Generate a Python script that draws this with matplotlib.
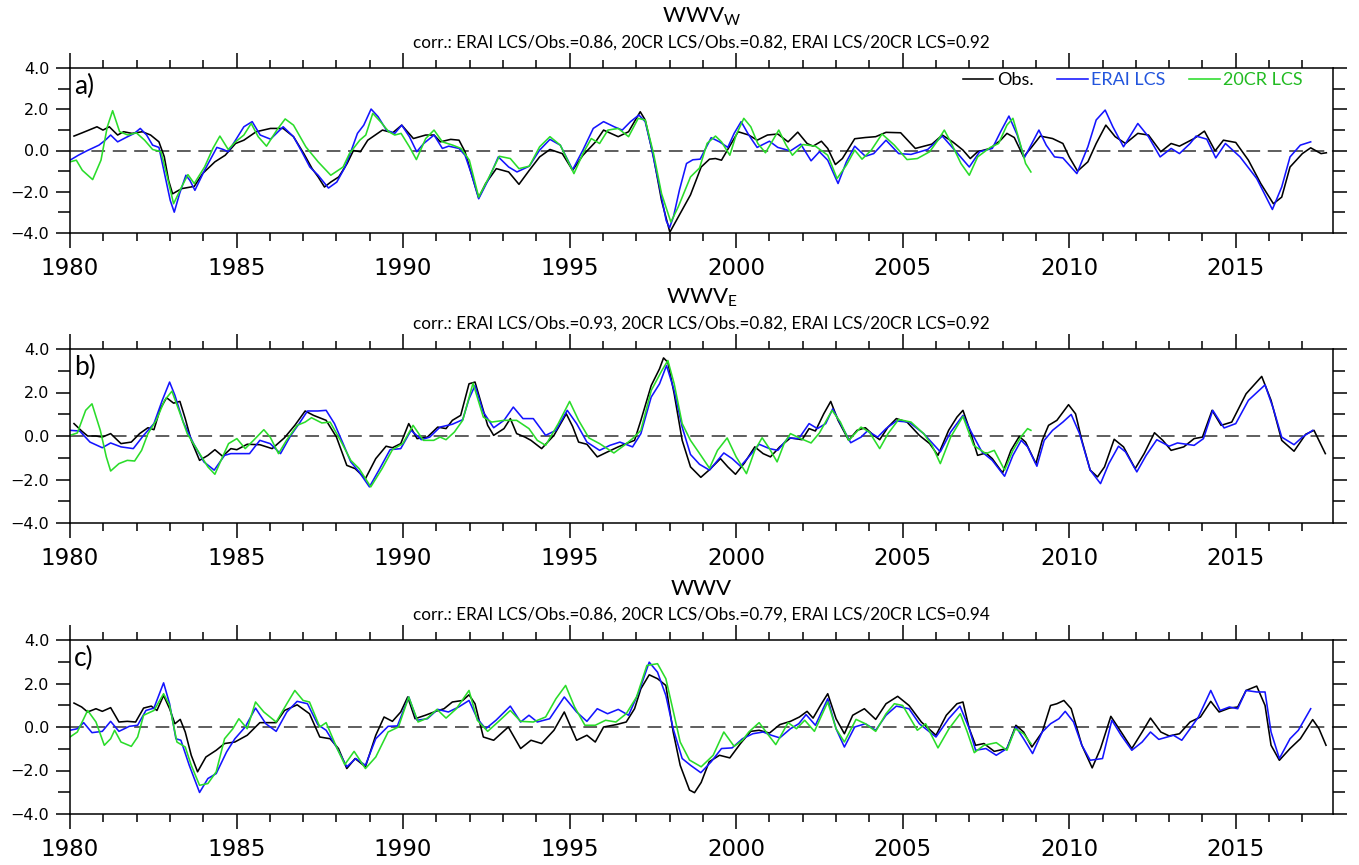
import matplotlib
matplotlib.use("Agg")
import matplotlib.pyplot as plt
from matplotlib.ticker import MultipleLocator, FuncFormatter

# ---------------- a) WWVw ----------------
a_obs_t = [1980.12, 1980.37, 1980.81, 1980.99, 1981.18, 1981.43, 1981.61, 1981.86, 1982.17, 1982.42,
           1982.67, 1982.83, 1982.96, 1983.08, 1983.35, 1983.73, 1983.98, 1984.35, 1984.66, 1984.97,
           1985.22, 1985.59, 1986.02, 1986.40, 1986.71, 1987.02, 1987.27, 1987.45, 1987.64, 1987.83,
           1988.07, 1988.32, 1988.51, 1988.72, 1988.94, 1989.38, 1989.69, 1989.96, 1990.31, 1990.68,
           1990.93, 1991.12, 1991.43, 1991.68, 1991.86, 1992.05, 1992.27, 1992.48, 1992.80, 1993.17,
           1993.48, 1993.79, 1994.10, 1994.41, 1994.78, 1995.09, 1995.40, 1995.78, 1996.02, 1996.46,
           1996.77, 1997.12, 1997.27, 1997.52, 1997.76, 1998.01, 1998.26, 1998.63, 1998.95, 1999.20,
           1999.38, 1999.56, 2000.06, 2000.38, 2000.63, 2000.94, 2001.25, 2001.56, 2001.85, 2002.13,
           2002.31, 2002.56, 2002.75, 2002.98, 2003.19, 2003.56, 2003.88, 2004.19, 2004.50, 2004.94,
           2005.38, 2005.88, 2006.19, 2006.50, 2006.81, 2007.03, 2007.25, 2007.63, 2007.94, 2008.13,
           2008.35, 2008.63, 2008.88, 2009.13, 2009.50, 2009.81, 2010.00, 2010.25, 2010.56, 2010.81,
           2011.10, 2011.38, 2011.69, 2012.06, 2012.38, 2012.75, 2013.06, 2013.31, 2013.75, 2014.06,
           2014.38, 2014.63, 2015.00, 2015.38, 2015.75, 2016.13, 2016.38, 2016.63, 2017.00, 2017.25,
           2017.56, 2017.72]
a_obs_v = [0.70, 0.86, 1.15, 0.99, 1.15, 0.75, 0.91, 0.83, 0.91, 0.75,
           0.42, -0.30, -1.45, -2.10, -1.85, -1.74, -1.12, -0.55, -0.23, 0.34,
           0.50, 0.91, 1.07, 1.07, 0.67, -0.15, -0.88, -1.28, -1.77, -1.53,
           -1.28, -0.63, 0.00, -0.06, 0.50, 0.99, 0.86, 1.23, 0.58, 0.75,
           0.75, 0.42, 0.54, 0.50, -0.06, -1.12, -2.29, -1.60, -0.88, -1.04,
           -1.64, -0.96, -0.31, 0.05, -0.15, -0.96, -0.23, 0.42, 0.99, 0.67,
           0.91, 1.88, 1.48, -0.31, -2.42, -3.96, -3.23, -2.15, -0.80, -0.42,
           -0.39, -0.47, 0.91, 0.75, 0.50, 0.75, 0.80, 0.42, 0.89, 0.34,
           0.21, 0.45, 0.10, -0.68, -0.39, 0.57, 0.63, 0.67, 0.88, 0.86,
           0.10, 0.31, 0.75, 0.42, 0.02, -0.39, -0.06, 0.10, 0.50, 0.83,
           0.63, -0.31, 0.18, 0.70, 0.58, 0.34, -0.31, -1.00, -0.55, 0.34,
           1.23, 0.67, 0.34, 0.83, 0.75, -0.06, 0.34, 0.21, 0.58, 0.94,
           -0.02, 0.50, 0.39, -0.47, -1.60, -2.58, -2.26, -0.80, -0.15, 0.13,
           -0.15, -0.11]

a_erai_t = [1980.00, 1980.25, 1980.50, 1980.87, 1981.06, 1981.22, 1981.43, 1981.68, 1981.93, 1982.11,
            1982.30, 1982.48, 1982.67, 1982.86, 1983.01, 1983.13, 1983.29, 1983.48, 1983.60, 1983.75,
            1984.04, 1984.41, 1984.60, 1984.75, 1984.97, 1985.22, 1985.47, 1985.71, 1986.02, 1986.40,
            1986.71, 1986.96, 1987.20, 1987.45, 1987.76, 1988.01, 1988.26, 1988.45, 1988.63, 1988.82,
            1989.04, 1989.25, 1989.50, 1989.75, 1989.96, 1990.19, 1990.41, 1990.62, 1990.93, 1991.18,
            1991.37, 1991.68, 1991.86, 1992.05, 1992.27, 1992.55, 1992.86, 1993.17, 1993.42, 1993.79,
            1994.10, 1994.41, 1994.72, 1995.09, 1995.40, 1995.71, 1996.02, 1996.34, 1996.58, 1996.83,
            1997.08, 1997.27, 1997.45, 1997.70, 1997.90, 1998.00, 1998.12, 1998.30, 1998.51, 1998.70,
            1998.92, 1999.25, 1999.50, 1999.75, 1999.94, 2000.15, 2000.38, 2000.63, 2001.00, 2001.25,
            2001.63, 2001.94, 2002.25, 2002.50, 2002.75, 2003.06, 2003.31, 2003.56, 2003.88, 2004.13,
            2004.50, 2004.88, 2005.25, 2005.75, 2006.19, 2006.56, 2007.00, 2007.31, 2007.69, 2007.94,
            2008.19, 2008.44, 2008.65, 2008.88, 2009.09, 2009.31, 2009.56, 2009.81, 2010.23, 2010.56,
            2010.81, 2011.08, 2011.31, 2011.63, 2012.06, 2012.38, 2012.73, 2013.06, 2013.31, 2013.63,
            2013.81, 2014.13, 2014.40, 2014.69, 2015.13, 2015.63, 2016.10, 2016.38, 2016.63, 2016.94,
            2017.25]
a_erai_v = [-0.47, -0.23, -0.02, 0.26, 0.50, 0.75, 0.42, 0.63, 0.83, 1.07,
            0.75, 0.26, 0.15, -1.28, -2.42, -2.99, -2.09, -1.20, -1.45, -1.93,
            -0.96, 0.15, 0.05, -0.06, 0.50, 1.15, 1.40, 0.75, 0.55, 1.15,
            0.67, -0.06, -0.80, -1.20, -1.82, -1.53, -0.80, 0.02, 0.83, 1.23,
            2.01, 1.64, 0.99, 0.83, 1.23, 0.67, -0.06, 0.34, 0.75, 0.10,
            0.21, 0.10, -0.23, -1.12, -2.34, -1.45, -0.31, -0.80, -1.04, -0.76,
            0.02, 0.54, 0.26, -0.93, 0.02, 1.07, 1.40, 1.15, 0.99, 1.40,
            1.72, 1.40, 0.18, -1.77, -3.40, -3.75, -3.20, -1.90, -0.63, -0.45,
            -0.42, 0.62, 0.42, 0.15, 0.83, 1.40, 0.75, 0.15, 0.45, 0.15,
            -0.02, 0.31, -0.50, -0.06, -0.47, -1.60, -0.55, 0.21, -0.28, -0.15,
            0.50, -0.15, -0.19, 0.05, 0.70, 0.02, -0.80, -0.06, 0.10, 0.91,
            1.67, 0.75, -0.36, 0.34, 0.99, 0.26, -0.31, -0.36, -1.12, 0.18,
            1.48, 1.96, 1.15, 0.18, 1.31, 0.67, -0.31, 0.10, -0.15, 0.34,
            0.70, 0.55, -0.36, 0.34, -0.31, -1.36, -2.86, -1.77, -0.31, 0.26,
            0.42]

a_20cr_t = [1980.00, 1980.19, 1980.37, 1980.68, 1980.93, 1981.12, 1981.28, 1981.49, 1981.74, 1981.99,
            1982.24, 1982.48, 1982.73, 1982.92, 1983.11, 1983.35, 1983.54, 1983.73, 1984.04, 1984.29,
            1984.50, 1984.75, 1984.97, 1985.22, 1985.44, 1985.65, 1985.90, 1986.21, 1986.46, 1986.71,
            1987.08, 1987.45, 1987.83, 1988.20, 1988.39, 1988.70, 1988.88, 1989.09, 1989.32, 1989.57,
            1989.75, 1989.94, 1990.19, 1990.40, 1990.68, 1990.93, 1991.18, 1991.49, 1991.74, 1991.99,
            1992.27, 1992.61, 1992.89, 1993.22, 1993.48, 1993.79, 1994.10, 1994.41, 1994.72, 1995.13,
            1995.40, 1995.65, 1995.90, 1996.15, 1996.46, 1996.77, 1997.06, 1997.27, 1997.52, 1997.76,
            1998.04, 1998.26, 1998.63, 1998.90, 1999.13, 1999.38, 1999.56, 1999.81, 2000.00, 2000.23,
            2000.44, 2000.65, 2000.88, 2001.28, 2001.50, 2001.69, 2002.00, 2002.38, 2002.75, 2003.03,
            2003.31, 2003.56, 2003.78, 2004.06, 2004.38, 2004.75, 2005.13, 2005.44, 2005.81, 2006.06,
            2006.25, 2006.44, 2006.75, 2007.00, 2007.25, 2007.63, 2007.88, 2008.13, 2008.31, 2008.50,
            2008.69, 2008.85]
a_20cr_v = [-0.55, -0.47, -0.96, -1.41, -0.47, 1.15, 1.93, 0.91, 0.75, 0.86,
            0.50, 0.05, -0.06, -1.28, -2.58, -1.77, -1.17, -1.60, -0.80, 0.10,
            0.70, 0.05, 0.42, 0.75, 1.31, 0.67, 0.21, 0.99, 1.53, 1.23,
            0.18, -0.55, -1.20, -0.80, -0.15, 0.50, 0.75, 1.80, 1.40, 0.91,
            0.75, 0.83, 0.18, -0.44, 0.58, 0.99, 0.42, 0.26, 0.10, -0.47,
            -2.26, -1.20, -0.28, -0.39, -0.88, -0.76, 0.18, 0.67, 0.26, -1.12,
            -0.15, 0.58, 0.34, 0.99, 1.07, 0.67, 1.56, 1.48, -0.15, -2.09,
            -3.47, -2.74, -1.28, -0.85, 0.35, 0.70, 0.42, -0.23, 0.75, 1.56,
            1.15, 0.34, -0.11, 0.99, 0.26, -0.23, 0.29, 0.21, -0.23, -1.36,
            -0.71, 0.02, -0.42, 0.02, 0.80, 0.26, -0.44, -0.39, -0.06, 0.50,
            0.99, 0.42, -0.63, -1.20, -0.31, 0.15, 0.34, 1.23, 1.56, 0.50,
            -0.63, -1.04]

# ---------------- b) WWVe ----------------
b_obs_t = [1980.12, 1980.35, 1980.53, 1980.78, 1980.97, 1981.22, 1981.53, 1981.84, 1982.09, 1982.34,
           1982.52, 1982.71, 1982.90, 1983.11, 1983.30, 1983.46, 1983.64, 1983.89, 1984.14, 1984.35,
           1984.58, 1984.83, 1985.01, 1985.32, 1985.70, 1986.07, 1986.44, 1986.75, 1987.06, 1987.31,
           1987.69, 1988.00, 1988.31, 1988.56, 1988.87, 1989.18, 1989.49, 1989.68, 1989.93, 1990.17,
           1990.42, 1990.73, 1991.04, 1991.29, 1991.48, 1991.73, 1991.98, 1992.16, 1992.35, 1992.54,
           1992.72, 1993.03, 1993.22, 1993.41, 1993.66, 1993.84, 1994.16, 1994.53, 1994.90, 1995.09,
           1995.27, 1995.52, 1995.83, 1996.14, 1996.46, 1996.70, 1996.95, 1997.14, 1997.45, 1997.70,
           1997.82, 1997.95, 1998.14, 1998.38, 1998.63, 1998.94, 1999.20, 1999.53, 1999.75, 1999.98,
           2000.25, 2000.56, 2000.81, 2001.03, 2001.31, 2001.63, 2001.98, 2002.19, 2002.38, 2002.63,
           2002.84, 2003.06, 2003.38, 2003.63, 2003.88, 2004.13, 2004.31, 2004.56, 2004.81, 2005.13,
           2005.50, 2005.81, 2006.06, 2006.38, 2006.63, 2006.81, 2007.00, 2007.25, 2007.50, 2007.69,
           2008.00, 2008.25, 2008.50, 2008.69, 2009.00, 2009.19, 2009.38, 2009.63, 2009.98, 2010.19,
           2010.38, 2010.63, 2010.85, 2011.06, 2011.35, 2011.63, 2011.98, 2012.25, 2012.56, 2012.81,
           2013.06, 2013.44, 2013.75, 2014.00, 2014.29, 2014.56, 2014.88, 2015.31, 2015.78, 2016.06,
           2016.38, 2016.75, 2017.10, 2017.35, 2017.69]
b_obs_v = [0.57, 0.23, 0.00, 0.00, -0.05, 0.11, -0.35, -0.28, 0.11, 0.38,
           0.29, 1.25, 1.76, 1.51, 1.59, 0.80, -0.20, -1.12, -0.89, -0.63,
           -0.93, -0.58, -0.63, -0.38, -0.40, -0.58, -0.08, 0.49, 1.15, 0.95,
           0.72, -0.05, -1.35, -1.50, -1.96, -1.04, -0.47, -0.54, -0.35, 0.57,
           -0.12, -0.05, 0.41, 0.34, 0.72, 0.95, 2.40, 2.48, 1.48, 0.49,
           0.03, 0.34, 0.80, 0.11, -0.05, -0.20, -0.58, 0.03, 1.02, 0.44,
           -0.28, -0.38, -0.96, -0.73, -0.50, -0.35, -0.20, 0.72, 2.32, 3.09,
           3.59, 3.39, 1.94, -0.20, -1.42, -1.90, -1.55, -1.04, -1.42, -1.76,
           -1.24, -0.50, -0.81, -0.96, -0.50, -0.09, -0.17, 0.34, 0.23, 1.02,
           1.59, 0.72, -0.20, 0.26, 0.38, 0.03, -0.17, 0.41, 0.80, 0.64,
           0.03, -0.35, -0.89, 0.26, 0.87, 1.18, 0.34, -0.89, -0.78, -1.04,
           -1.70, -0.66, -0.02, -0.28, -1.27, -0.20, 0.49, 0.72, 1.44, 1.02,
           -0.20, -1.57, -1.88, -1.42, -0.15, -0.50, -1.50, -0.81, 0.15, -0.20,
           -0.66, -0.50, -0.12, -0.05, 1.18, 0.49, 0.64, 1.94, 2.74, 1.64,
           -0.20, -0.70, 0.08, 0.26, -0.81]

b_erai_t = [1980.00, 1980.29, 1980.60, 1980.97, 1981.22, 1981.53, 1981.90, 1982.21, 1982.52, 1982.77,
            1982.99, 1983.15, 1983.40, 1983.71, 1984.02, 1984.33, 1984.64, 1984.83, 1985.07, 1985.39,
            1985.70, 1986.01, 1986.32, 1986.63, 1986.88, 1987.13, 1987.44, 1987.69, 1987.94, 1988.18,
            1988.43, 1988.68, 1988.99, 1989.30, 1989.61, 1989.93, 1990.24, 1990.55, 1990.80, 1991.11,
            1991.48, 1991.79, 1991.98, 1992.16, 1992.41, 1992.72, 1993.03, 1993.31, 1993.60, 1993.91,
            1994.28, 1994.59, 1994.93, 1995.21, 1995.52, 1995.90, 1996.21, 1996.51, 1996.89, 1997.14,
            1997.45, 1997.70, 1997.91, 1998.14, 1998.38, 1998.63, 1998.90, 1999.20, 1999.63, 1999.88,
            2000.13, 2000.38, 2000.69, 2001.00, 2001.25, 2001.56, 2001.88, 2002.19, 2002.44, 2002.69,
            2002.90, 2003.13, 2003.44, 2003.75, 2003.94, 2004.25, 2004.50, 2004.81, 2005.19, 2005.63,
            2006.13, 2006.44, 2006.81, 2007.06, 2007.38, 2007.69, 2008.06, 2008.31, 2008.56, 2008.75,
            2009.03, 2009.25, 2009.50, 2009.81, 2010.06, 2010.31, 2010.63, 2010.94, 2011.19, 2011.48,
            2011.69, 2012.03, 2012.31, 2012.63, 2013.00, 2013.25, 2013.75, 2014.03, 2014.31, 2014.65,
            2015.00, 2015.38, 2015.88, 2016.13, 2016.38, 2016.75, 2017.00, 2017.31]
b_erai_v = [0.26, 0.23, -0.28, -0.54, -0.32, -0.50, -0.58, 0.03, 0.57, 1.64,
            2.48, 1.87, 0.64, -0.35, -1.19, -1.57, -0.89, -0.81, -0.81, -0.81,
            -0.20, -0.35, -0.81, 0.03, 0.57, 1.15, 1.15, 1.18, 0.57, -0.28,
            -1.19, -1.65, -2.34, -1.50, -0.63, -0.58, 0.26, -0.17, -0.05, 0.41,
            0.54, 0.75, 1.71, 2.32, 1.10, 0.38, 0.72, 1.33, 0.80, 0.80,
            0.03, 0.26, 1.18, 0.57, -0.28, -0.66, -0.43, -0.28, -0.50, 0.11,
            1.79, 2.40, 3.24, 2.09, 0.41, -0.85, -1.30, -1.57, -0.78, -1.04,
            -1.39, -0.96, -0.38, -0.58, -0.66, -0.09, -0.12, 0.57, 0.34, 0.57,
            1.25, 0.57, -0.31, -0.05, 0.23, -0.05, 0.34, 0.69, 0.64, 0.11,
            -0.73, 0.18, 0.95, 0.18, -0.73, -1.12, -1.85, -0.89, -0.20, -0.50,
            -1.39, -0.20, 0.26, 0.64, 0.99, 0.11, -1.57, -2.19, -1.27, -0.47,
            -0.73, -1.65, -0.89, -0.17, -0.47, -0.32, -0.43, -0.12, 1.18, 0.37,
            0.57, 1.64, 2.35, 1.25, -0.05, -0.40, -0.05, 0.26]

b_20cr_t = [1980.00, 1980.22, 1980.47, 1980.66, 1980.91, 1981.09, 1981.22, 1981.47, 1981.72, 1981.94,
            1982.15, 1982.34, 1982.59, 1982.84, 1983.06, 1983.27, 1983.52, 1983.83, 1984.14, 1984.35,
            1984.58, 1984.76, 1985.01, 1985.26, 1985.51, 1985.82, 1986.01, 1986.26, 1986.50, 1986.82,
            1987.06, 1987.25, 1987.56, 1987.81, 1988.12, 1988.43, 1988.68, 1989.03, 1989.37, 1989.68,
            1989.99, 1990.30, 1990.61, 1990.92, 1991.11, 1991.29, 1991.54, 1991.79, 1992.10, 1992.41,
            1992.66, 1993.03, 1993.41, 1993.78, 1994.03, 1994.28, 1994.66, 1995.00, 1995.27, 1995.58,
            1995.90, 1996.33, 1996.64, 1996.89, 1997.14, 1997.45, 1997.77, 1997.95, 1998.14, 1998.38,
            1998.63, 1998.94, 1999.20, 1999.44, 1999.73, 2000.00, 2000.31, 2000.56, 2000.78, 2001.00,
            2001.23, 2001.44, 2001.63, 2001.94, 2002.25, 2002.50, 2002.88, 2003.13, 2003.38, 2003.75,
            2004.00, 2004.31, 2004.56, 2004.88, 2005.25, 2005.63, 2005.88, 2006.13, 2006.44, 2006.81,
            2007.13, 2007.50, 2007.75, 2008.06, 2008.31, 2008.56, 2008.75, 2008.85]
b_20cr_v = [0.03, 0.14, 1.18, 1.48, 0.26, -0.96, -1.61, -1.27, -1.12, -1.15,
            -0.66, 0.11, 0.72, 1.64, 2.06, 1.18, 0.11, -0.66, -1.42, -1.76,
            -0.96, -0.35, -0.12, -0.58, -0.20, 0.29, -0.05, -0.81, -0.20, 0.49,
            0.64, 0.84, 0.60, 0.64, -0.20, -1.12, -1.50, -2.34, -1.50, -0.63,
            -0.35, 0.49, -0.20, -0.20, -0.05, -0.17, 0.18, 0.72, 2.43, 0.87,
            0.64, 0.72, 0.72, 0.34, -0.20, -0.43, 0.57, 1.59, 0.72, -0.09,
            -0.35, -0.78, -0.43, -0.12, 0.26, 2.09, 3.01, 3.47, 2.40, 0.57,
            -0.20, -0.89, -1.48, -0.66, -0.09, -0.96, -1.73, -0.66, -0.08, -0.58,
            -1.19, -0.35, 0.11, -0.12, -0.32, 0.14, 1.18, 0.64, -0.20, 0.41,
            0.18, -0.58, 0.11, 0.76, 0.64, 0.11, -0.43, -1.27, -0.05, 0.90,
            -0.43, -0.81, -0.66, -1.57, -0.66, -0.02, 0.34, 0.26]

# ---------------- c) WWV ----------------
c_obs_t = [1980.12, 1980.35, 1980.53, 1980.78, 1980.97, 1981.22, 1981.47, 1981.72, 1981.97, 1982.21,
           1982.44, 1982.61, 1982.81, 1982.99, 1983.15, 1983.31, 1983.46, 1983.64, 1983.83, 1984.08,
           1984.39, 1984.64, 1984.95, 1985.32, 1985.70, 1986.19, 1986.44, 1986.82, 1987.19, 1987.50,
           1987.81, 1988.06, 1988.31, 1988.56, 1988.87, 1989.18, 1989.43, 1989.68, 1989.93, 1990.14,
           1990.36, 1990.67, 1990.98, 1991.23, 1991.48, 1991.79, 1991.98, 1992.16, 1992.41, 1992.72,
           1993.16, 1993.53, 1993.84, 1994.16, 1994.53, 1994.84, 1995.21, 1995.52, 1995.77, 1996.02,
           1996.40, 1996.70, 1996.95, 1997.14, 1997.39, 1997.64, 1997.89, 1998.11, 1998.32, 1998.60,
           1998.75, 1998.95, 1999.19, 1999.50, 1999.81, 2000.13, 2000.44, 2000.69, 2001.00, 2001.31,
           2001.63, 2001.90, 2002.13, 2002.31, 2002.53, 2002.75, 2003.00, 2003.25, 2003.50, 2003.85,
           2004.19, 2004.50, 2004.85, 2005.19, 2005.56, 2006.00, 2006.31, 2006.63, 2006.81, 2007.00,
           2007.19, 2007.44, 2007.75, 2008.13, 2008.40, 2008.63, 2008.88, 2009.19, 2009.44, 2009.63,
           2009.84, 2010.06, 2010.38, 2010.69, 2010.94, 2011.25, 2011.56, 2011.88, 2012.19, 2012.44,
           2012.75, 2013.00, 2013.31, 2013.63, 2013.94, 2014.25, 2014.50, 2014.81, 2015.06, 2015.31,
           2015.63, 2015.88, 2016.06, 2016.31, 2016.63, 2016.94, 2017.31, 2017.50, 2017.71]
c_obs_v = [1.10, 0.92, 0.69, 0.84, 0.72, 0.89, 0.23, 0.26, 0.23, 0.87,
           0.96, 0.76, 1.45, 0.84, 0.15, 0.35, -0.23, -1.30, -2.06, -1.38,
           -1.07, -0.76, -0.69, -0.38, 0.20, 0.20, 0.76, 1.02, 0.61, -0.46,
           -0.54, -0.99, -1.91, -1.45, -1.83, -0.38, 0.46, 0.26, 0.69, 1.38,
           0.38, 0.54, 0.72, 0.84, 1.15, 1.22, 1.48, 1.07, -0.46, -0.61,
           0.00, -0.99, -0.61, -0.76, -0.15, 0.69, -0.61, -0.38, -0.69, 0.00,
           0.11, 0.23, 0.84, 1.76, 2.40, 2.22, 1.91, -0.23, -1.76, -2.90,
           -3.02, -2.55, -1.60, -1.30, -1.42, -0.76, -0.20, -0.15, -0.28, 0.11,
           0.26, 0.46, 0.72, 0.41, 0.99, 1.53, 0.38, -0.31, 0.54, 0.84,
           0.35, 1.07, 1.41, 0.99, 0.23, -0.38, 0.54, 1.07, 1.15, -0.08,
           -0.84, -0.76, -1.12, -0.99, 0.08, -0.23, -0.92, -0.23, 0.99, 1.07,
           1.22, 0.84, -0.84, -1.88, -0.99, 0.49, -0.23, -0.99, -0.23, 0.41,
           -0.23, -0.41, -0.31, 0.23, 0.46, 1.18, 0.69, 0.87, 0.92, 1.68,
           1.88, 0.99, -0.84, -1.53, -0.99, -0.54, 0.34, -0.08, -0.84]

c_erai_t = [1980.00, 1980.22, 1980.41, 1980.66, 1980.97, 1981.22, 1981.47, 1981.78, 1982.03, 1982.28,
            1982.52, 1982.81, 1982.99, 1983.18, 1983.33, 1983.58, 1983.89, 1984.14, 1984.39, 1984.70,
            1984.95, 1985.26, 1985.57, 1985.88, 1986.19, 1986.51, 1986.82, 1987.13, 1987.44, 1987.69,
            1988.00, 1988.31, 1988.58, 1988.87, 1989.18, 1989.55, 1989.83, 1990.17, 1990.42, 1990.73,
            1991.04, 1991.36, 1991.67, 1991.98, 1992.23, 1992.48, 1992.79, 1993.22, 1993.53, 1993.78,
            1994.03, 1994.40, 1994.84, 1995.21, 1995.52, 1995.83, 1996.14, 1996.46, 1996.77, 1997.08,
            1997.39, 1997.64, 1997.89, 1998.11, 1998.38, 1998.63, 1998.94, 1999.25, 1999.56, 1999.88,
            2000.19, 2000.50, 2000.81, 2001.06, 2001.31, 2001.63, 2001.88, 2002.10, 2002.38, 2002.75,
            2003.00, 2003.25, 2003.56, 2003.88, 2004.19, 2004.50, 2004.81, 2005.19, 2005.50, 2006.00,
            2006.38, 2006.72, 2007.00, 2007.19, 2007.50, 2007.81, 2008.13, 2008.40, 2008.63, 2008.90,
            2009.19, 2009.44, 2009.69, 2009.88, 2010.13, 2010.38, 2010.63, 2011.00, 2011.28, 2011.56,
            2011.88, 2012.19, 2012.44, 2012.69, 2013.13, 2013.38, 2013.63, 2013.88, 2014.25, 2014.53,
            2014.81, 2015.06, 2015.31, 2015.63, 2015.88, 2016.06, 2016.31, 2016.63, 2016.88, 2017.25]
c_erai_v = [-0.15, -0.08, 0.20, -0.26, -0.20, 0.26, -0.20, 0.03, 0.08, 0.76,
            0.87, 2.03, 1.07, -0.54, -0.61, -1.76, -3.01, -2.37, -2.14, -1.15,
            -0.54, 0.00, 0.87, 0.15, -0.20, 0.69, 1.18, 1.07, 0.11, -0.15,
            -0.92, -1.83, -1.45, -1.76, -0.54, 0.03, 0.05, 1.38, 0.31, 0.38,
            0.81, 0.69, 0.92, 1.22, 0.38, -0.08, 0.31, 0.96, 0.23, 0.54,
            0.23, 0.38, 1.38, 0.69, 0.26, 0.84, 0.61, 0.81, 0.54, 1.61,
            2.98, 2.52, 1.45, -0.08, -1.45, -1.76, -2.10, -1.60, -0.99, -0.96,
            -0.54, -0.31, -0.23, -0.38, -0.50, -0.08, 0.15, 0.57, 0.08, 1.30,
            -0.08, -0.92, 0.00, 0.15, -0.15, 0.54, 0.96, 0.84, 0.15, -0.46,
            0.38, 0.96, -0.08, -1.07, -0.99, -1.30, -0.99, 0.00, -0.54, -1.22,
            -0.23, 0.15, 0.38, 0.72, 0.23, -0.84, -1.53, -1.45, 0.31, -0.38,
            -1.07, -0.69, -0.23, -0.57, -0.38, -0.61, -0.08, 0.46, 1.68, 0.76,
            0.92, 0.84, 1.68, 1.61, 1.61, -0.23, -1.45, -0.54, -0.15, 0.84]

c_20cr_t = [1980.00, 1980.22, 1980.53, 1980.78, 1981.03, 1981.22, 1981.34, 1981.53, 1981.84, 1982.03,
            1982.21, 1982.52, 1982.81, 1982.99, 1983.21, 1983.46, 1983.64, 1983.89, 1984.14, 1984.39,
            1984.64, 1984.89, 1985.07, 1985.32, 1985.57, 1985.82, 1986.19, 1986.51, 1986.75, 1987.00,
            1987.19, 1987.50, 1987.69, 1988.00, 1988.25, 1988.53, 1988.87, 1989.18, 1989.55, 1989.86,
            1990.17, 1990.45, 1990.73, 1991.02, 1991.29, 1991.60, 1991.98, 1992.23, 1992.54, 1992.85,
            1993.22, 1993.53, 1993.91, 1994.28, 1994.59, 1994.88, 1995.15, 1995.46, 1995.77, 1996.08,
            1996.39, 1996.70, 1997.01, 1997.32, 1997.64, 1997.89, 1998.14, 1998.32, 1998.60, 1998.95,
            1999.31, 1999.63, 1999.94, 2000.19, 2000.38, 2000.69, 2000.94, 2001.19, 2001.56, 2001.81,
            2002.06, 2002.35, 2002.75, 2003.00, 2003.25, 2003.60, 2003.88, 2004.19, 2004.50, 2004.75,
            2005.00, 2005.44, 2005.69, 2006.06, 2006.39, 2006.73, 2006.94, 2007.15, 2007.44, 2007.81,
            2008.13, 2008.38, 2008.63, 2008.85]
c_20cr_v = [-0.46, -0.23, 0.76, 0.23, -0.84, -0.54, -0.15, -0.69, -0.89, -0.46,
            0.54, 0.76, 1.53, 0.99, -0.69, -0.92, -1.76, -2.68, -2.60, -2.06,
            -0.54, -0.08, 0.38, -0.08, 1.15, 0.69, 0.23, 1.07, 1.68, 1.22,
            1.15, 0.00, 0.20, -0.92, -1.73, -1.12, -1.91, -1.38, -0.23, 0.00,
            1.38, 0.23, 0.41, 0.81, 0.41, 0.84, 1.68, 0.31, -0.20, 0.23,
            0.76, 0.26, 0.23, 0.46, 1.30, 1.91, 0.92, 0.08, 0.08, 0.31,
            0.23, 0.61, 1.38, 2.83, 2.91, 2.22, 0.54, -0.69, -1.52, -1.83,
            -1.30, -0.23, -0.89, -0.61, -0.23, 0.20, -0.31, -0.81, 0.20, -0.08,
            0.31, -0.20, 1.15, -0.08, -0.69, 0.35, 0.15, -0.20, 0.61, 1.07,
            0.99, -0.15, 0.15, -0.96, -0.08, 0.61, -0.23, -1.18, -0.84, -0.72,
            -1.07, -0.08, -0.31, -0.76]

letters = ["a)", "b)", "c)"]
titles = [r"WWV$_\mathregular{W}$", r"WWV$_\mathregular{E}$", "WWV"]
corr_texts = ["corr.: ERAI LCS/Obs.=0.86, 20CR LCS/Obs.=0.82, ERAI LCS/20CR LCS=0.92",
              "corr.: ERAI LCS/Obs.=0.93, 20CR LCS/Obs.=0.82, ERAI LCS/20CR LCS=0.92",
              "corr.: ERAI LCS/Obs.=0.86, 20CR LCS/Obs.=0.79, ERAI LCS/20CR LCS=0.94"]
labels = ["Obs.", "ERAI LCS", "20CR LCS"]
colors = ["black", "#1414ff", "#2adc2a"]
label_colors = ["black", "#2255dd", "#22bb22"]

panels = [
    [(a_obs_t, a_obs_v), (a_erai_t, a_erai_v), (a_20cr_t, a_20cr_v)],
    [(b_obs_t, b_obs_v), (b_erai_t, b_erai_v), (b_20cr_t, b_20cr_v)],
    [(c_obs_t, c_obs_v), (c_erai_t, c_erai_v), (c_20cr_t, c_20cr_v)],
]

plt.rcParams['font.family'] = ['DejaVu Sans']
text_font = 'Lato'

W, H = 1359, 865
fig = plt.figure(figsize=(W / 100, H / 100), dpi=100)

# axes boxes in pixels: (top, bottom)
boxes = [(68, 233), (349, 523), (640, 814)]
left_px, right_px = 70, 1333

minus_fmt = FuncFormatter(lambda x, p: f"{x:.1f}".replace("-", "\u2212"))

for i, (top, bot) in enumerate(boxes):
    ax = fig.add_axes([left_px / W, 1 - bot / H, (right_px - left_px) / W, (bot - top) / H])

    # dashed zero line
    ax.axhline(0, color='#333333', lw=1.1, dashes=(9, 5), zorder=1)

    for (t, v), c, lab in zip(panels[i], colors, labels):
        ax.plot(t, v, color=c, lw=1.15, label=lab, zorder=2)

    ax.set_xlim(1980, 2017.92)
    ax.set_ylim(-4, 4)
    ax.xaxis.set_major_locator(MultipleLocator(5))
    ax.xaxis.set_minor_locator(MultipleLocator(1))
    ax.yaxis.set_major_locator(MultipleLocator(2))
    ax.yaxis.set_minor_locator(MultipleLocator(1))
    ax.yaxis.set_major_formatter(minus_fmt)

    ax.tick_params(which='both', direction='out', top=True, right=True, width=1.1)
    ax.tick_params(axis='x', which='major', length=10.5, labelsize=16.5, pad=7)
    ax.tick_params(axis='x', which='minor', length=5.5)
    ax.tick_params(axis='y', which='major', length=10, labelsize=11.5, pad=5)
    ax.tick_params(axis='y', which='minor', length=8.5)
    for s in ax.spines.values():
        s.set_linewidth(1.1)

    # panel letter, title and correlation line
    ax.annotate(letters[i], xy=(0, 1), xycoords='axes fraction', xytext=(3, -4),
                textcoords='offset points', ha='left', va='top', fontsize=19, family=text_font)
    ax.annotate(titles[i], xy=(0.5, 1), xycoords='axes fraction', xytext=(0, 37),
                textcoords='offset points', ha='center', va='center', fontsize=16, family=text_font)
    ax.annotate(corr_texts[i], xy=(0.5, 1), xycoords='axes fraction', xytext=(0, 18),
                textcoords='offset points', ha='center', va='center', fontsize=12.3, family=text_font)

    if i == 0:
        ax.legend(loc='upper right', bbox_to_anchor=(1 - 30 / 1264, 1 - 4 / 165), ncol=3,
                  frameon=False, labelcolor=label_colors, handlelength=1.7, handletextpad=0.2,
                  columnspacing=1.3, borderpad=0, borderaxespad=0,
                  prop={'family': text_font, 'size': 13})

fig.savefig("out.png", dpi=100)
